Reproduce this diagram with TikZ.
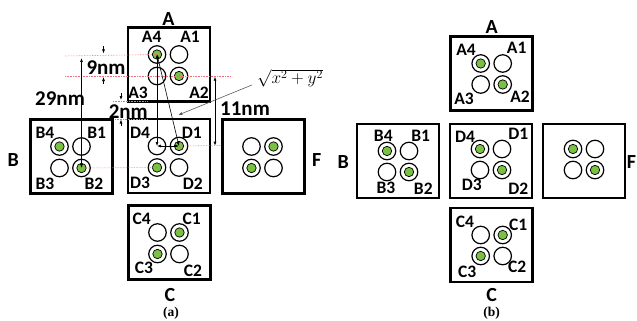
\documentclass[tikz,border=0pt]{standalone}
\usepackage{fontspec}
\newfontfamily\calib{Carlito}
\newfontfamily\timesb{Liberation Serif}
\usepackage{tikz}
\usetikzlibrary{positioning}
\usetikzlibrary{arrows.meta}
\definecolor{dotgreen}{RGB}{122,193,66}
\definecolor{guide}{RGB}{240,110,120}

\begin{document}
\begin{tikzpicture}[x=1pt, y=-1pt, >={Latex[length=4pt,width=3pt]},
  chip/.style={draw, line width=2.6pt, minimum width=82pt, minimum height=74pt, inner sep=0pt},
  hole/.style={circle, draw, line width=1.2pt, minimum size=17.5pt, inner sep=0pt},
  filled/.style={hole, path picture={\fill[dotgreen, draw=black, line width=0.7pt] (path picture bounding box.center) circle (4.7pt);}},
  lbl/.style={font=\calib\bfseries\fontsize{17.5}{17.5}\selectfont, inner sep=0pt},
  big/.style={font=\calib\bfseries\fontsize{20}{20}\selectfont, inner sep=0pt},
  nm/.style={font=\calib\bfseries\fontsize{21}{21}\selectfont, inner sep=0pt},
  captext/.style={font=\timesb\bfseries\fontsize{13.5}{13.5}\selectfont, inner sep=0pt},
  reddot/.style={guide, densely dotted, line width=0.6pt},
  dim/.style={line width=0.6pt}]
        \useasboundingbox (0,0) rectangle (637,321);

        % Chips with their four holes (4 1 / 3 2)
        \foreach \p/\b/\cx/\cy/\sd/\sa/\sc/\sb/\dl/\dr/\du/\dd in {
            a/A/169/64.5/filled/hole/hole/filled/12/10/10/11.5,
            a/B/71.5/156.5/filled/hole/hole/filled/12/10/10/11.5,
            a/D/169/156/hole/filled/filled/hole/12/10/10/11.5,
            a/F/263.5/156.5/hole/filled/filled/hole/12/10/10/11.5,
            a/C/169.5/242.5/hole/filled/filled/hole/12/10/10/11.5,
            b/A/491.7/73.5/filled/hole/hole/filled/11/11/10/11,
            b/B/398/161/filled/hole/hole/filled/11/11/10/11,
            b/D/491/161/filled/hole/hole/filled/11/11/12/9,
            b/F/584/161/filled/hole/hole/filled/11/11/12/9,
            b/C/491.7/245/hole/filled/filled/hole/11/11/10/11} {
          \node[chip] (\p\b) at (\cx,\cy) {};
          \node[\sd] (\p\b4) at (\cx-\dl,\cy-\du) {};
          \node[\sa] (\p\b1) at (\cx+\dr,\cy-\du) {};
          \node[\sc] (\p\b3) at (\cx-\dl,\cy+\dd) {};
          \node[\sb] (\p\b2) at (\cx+\dr,\cy+\dd) {};
        }

        % Hole labels
        \foreach \p/\t/\x/\y in {
            a/A4/151.7/37.3, a/A1/190/37.3, a/A3/138/92.7, a/A2/199/92.7,
            a/B4/45/132.7, a/B1/96.7/132.7, a/B3/45/184, a/B2/94/184,
            a/D4/140/133.3, a/D1/191.7/133.3, a/D3/140/183.3, a/D2/192.7/183.3,
            a/C4/141.7/219.3, a/C1/191.7/219.3, a/C3/144/268.3, a/C2/193/271,
            b/A4/466/50, b/A1/516.7/47.7, b/A3/464/99.3, b/A2/520/96.7,
            b/B4/383.3/136, b/B1/420.7/136, b/B3/386/188.3, b/B2/423.3/188.3,
            b/D4/465/136.7, b/D1/518.3/134.3, b/D3/471.7/185, b/D2/518.3/188.3,
            b/C4/465/221.7, b/C1/518.3/225, b/C3/467.3/271.7, b/C2/517.3/266.7} {
          \node[lbl] (l\p\t) at (\x,\y) {\t};
        }

        % Chip names and captions
        \node[big] (naA) at (168.5,19) {A};
        \node[big] (naB) at (13.3,160) {B};
        \node[big] (naF) at (316.7,160) {F};
        \node[big] (naC) at (170,295) {C};
        \node[captext] (capa) at (171,313) {(a)};
        \node[big] (nbA) at (491.7,26.7) {A};
        \node[big] (nbB) at (343.3,161.7) {B};
        \node[big] (nbF) at (631.5,161.7) {F};
        \node[big] (nbC) at (491.7,295) {C};
        \node[captext] (capb) at (491.7,313) {(b)};

        % Guide lines
        \coordinate (g1) at (65,56);
        \coordinate (g2s) at (65,76);
        \coordinate (g2e) at (230,76);
        \coordinate (g3s) at (113,101.5);
        \coordinate (g3e) at (148,101.5);
        \coordinate (g4s) at (115,119.3);
        \coordinate (g4e) at (148,119.3);
        \coordinate (g5) at (222,145.5);
        \draw[reddot] (g1) -- (aA4.center);
        \draw[reddot] (g2s) -- (g2e);
        \draw[reddot] (g3s) -- (g3e);
        \draw[reddot] (g4s) -- (g4e);
        \draw[reddot] (aD1.center) -- (g5);
        \draw[reddot] (aB2.center) -- (aD3.center);

        % Distances
        \draw[dim, <->] (aA4.center) -- (aD4.center);
        \draw[dim, <->] (aA4.center) -- (aD1.center);
        \draw[dim, <->] (aD4.center) -- (aD1.center);

        \coordinate (n9a) at (103.5,46.5);
        \coordinate (n9b) at (103.5,53.5);
        \coordinate (n9c) at (103.5,83.5);
        \coordinate (n9d) at (103.5,77);
        \draw[dim, ->] (n9a) -- (n9b);
        \draw[dim, ->] (n9c) -- (n9d);
        \node[nm] (t9) at (106,68) {9nm};

        \coordinate (n29) at (81.5,58);
        \draw[dim, <->] (n29) -- (aB2.center);
        \node[nm] (t29) at (60,99) {29nm};

        \coordinate (n2a) at (121,93);
        \coordinate (n2b) at (121,100);
        \coordinate (n2c) at (121,125.5);
        \coordinate (n2d) at (121,119.5);
        \draw[dim, ->] (n2a) -- (n2b);
        \draw[dim, ->] (n2c) -- (n2d);
        \node[nm] (t2) at (128.3,111.7) {2nm};

        \coordinate (n11a) at (215,76.7);
        \coordinate (n11b) at (215,145.7);
        \draw[dim, <->] (n11a) -- (n11b);
        \node[nm] (t11) at (245,108.3) {11nm};

        \node[font=\fontsize{18}{18}\selectfont, inner sep=0pt] (frm) at (290,78) {$\sqrt{x^2+y^2}$};
        \coordinate (fend) at (178.3,115);
        \draw[dim, gray!70!black, ->] ([xshift=-5pt,yshift=-7pt]frm.west) -- (fend);
      \end{tikzpicture}
\end{document}
